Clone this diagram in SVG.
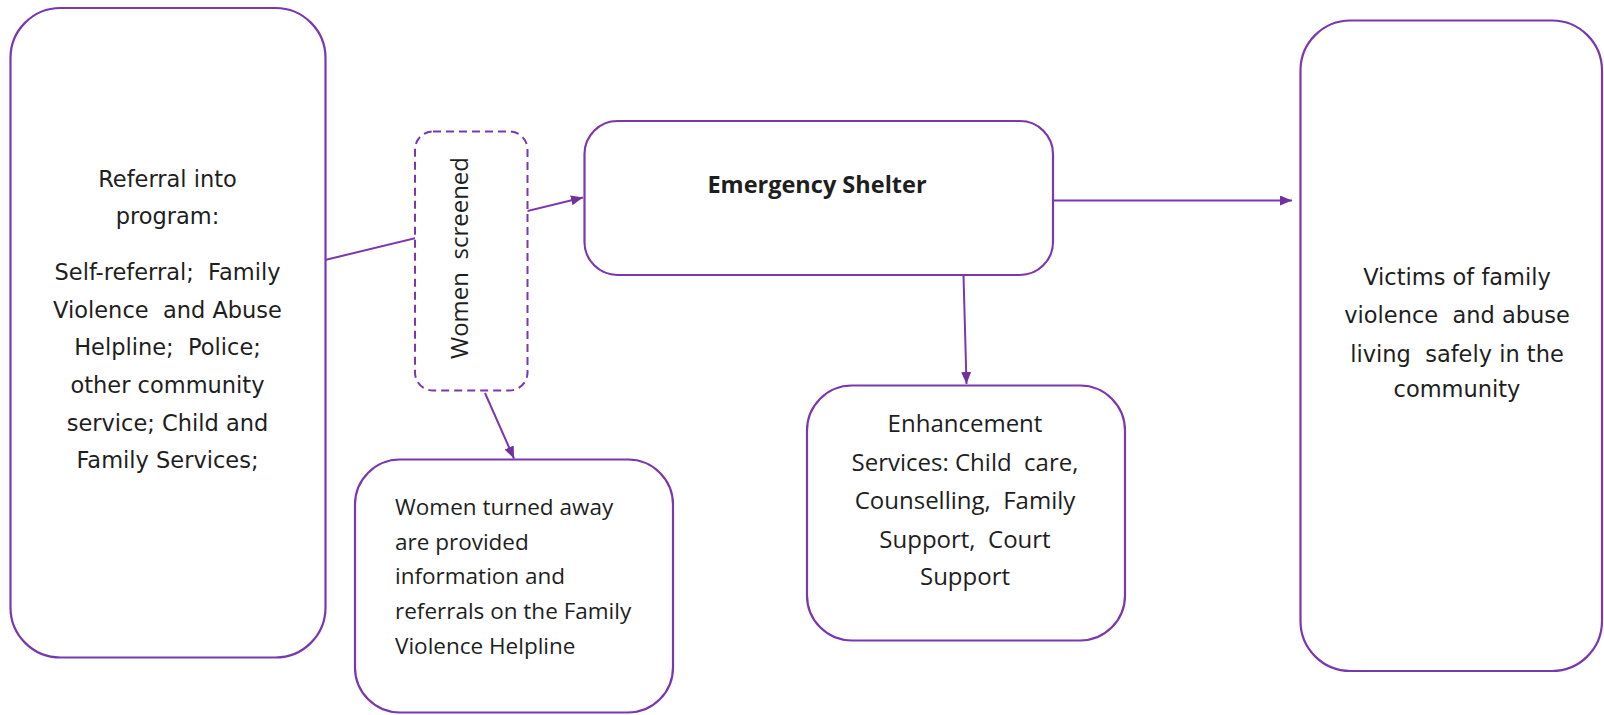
<svg xmlns="http://www.w3.org/2000/svg" width="1604" height="715" viewBox="0 0 1604 715">
<style>
.box{fill:#fff;stroke:#7A38B0;stroke-width:2.2}
.dash{fill:#fff;stroke:#7A38B0;stroke-width:2;stroke-dasharray:8 5}
.edge{fill:none;stroke:#7A38B0;stroke-width:2}
.t1{font-family:"DejaVu Sans",Verdana,sans-serif;font-size:22.5px;fill:#1e1e1e;text-anchor:middle;white-space:pre}
.t2{font-family:"Open Sans","Liberation Sans",sans-serif;font-size:22.5px;fill:#1e1e1e;white-space:pre}
.c{text-anchor:middle}
.b{font-weight:bold;font-size:23.5px}
.e{font-size:24px}
.w{font-size:24px}
</style>
<defs>
<marker id="arr" markerUnits="userSpaceOnUse" markerWidth="13" markerHeight="11" refX="12" refY="5" orient="auto">
<path d="M0,0 L12,5 L0,10 z" fill="#7030A0"/>
</marker>
</defs>
<g id="connectors">
<line class="edge" x1="325" y1="260" x2="583" y2="197.5" marker-end="url(#arr)"/>
<line class="edge" x1="1053" y1="200.5" x2="1292" y2="200.5" marker-end="url(#arr)"/>
<line class="edge" x1="963.5" y1="275" x2="966.5" y2="384" marker-end="url(#arr)"/>
<line class="edge" x1="485" y1="393" x2="514" y2="458.5" marker-end="url(#arr)"/>
</g>
<g id="referral">
<rect class="box" x="10.5" y="8" width="315" height="649.5" rx="50" ry="50"/>
<text class="t1" x="167.5" y="186.5">Referral into</text>
<text class="t1" x="167.5" y="224">program:</text>
<text class="t1" x="167.5" y="280">Self-referral;  Family</text>
<text class="t1" x="167.5" y="317.5">Violence  and Abuse</text>
<text class="t1" x="167.5" y="355">Helpline;  Police;</text>
<text class="t1" x="167.5" y="392.5">other community</text>
<text class="t1" x="167.5" y="430.5">service; Child and</text>
<text class="t1" x="167.5" y="468">Family Services;</text>
</g>
<g id="screened">
<rect class="dash" x="415" y="131.5" width="112.5" height="259" rx="18" ry="18"/>
<text class="t2 c w" transform="translate(468,258) rotate(-90)">Women  screened</text>
</g>
<g id="shelter">
<rect class="box" x="584.5" y="121" width="468.5" height="154" rx="33" ry="33"/>
<text class="t2 c b" x="817" y="193">Emergency Shelter</text>
</g>
<g id="turned-away">
<rect class="box" x="355" y="459.5" width="318" height="253" rx="45" ry="45"/>
<text class="t2" x="395" y="515">Women turned away</text>
<text class="t2" x="395" y="549.5">are provided</text>
<text class="t2" x="395" y="584">information and</text>
<text class="t2" x="395" y="619">referrals on the Family</text>
<text class="t2" x="395" y="653.5">Violence Helpline</text>
</g>
<g id="enhancement">
<rect class="box" x="807" y="385.5" width="318" height="255" rx="45" ry="45"/>
<text class="t2 c e" x="965" y="432">Enhancement</text>
<text class="t2 c e" x="965" y="470.5">Services: Child  care,</text>
<text class="t2 c e" x="965" y="509">Counselling,  Family</text>
<text class="t2 c e" x="965" y="547.5">Support,  Court</text>
<text class="t2 c e" x="965" y="585">Support</text>
</g>
<g id="victims">
<rect class="box" x="1300.5" y="20.5" width="301.5" height="650.5" rx="50" ry="50"/>
<text class="t1" x="1457" y="285">Victims of family</text>
<text class="t1" x="1457" y="323">violence  and abuse</text>
<text class="t1" x="1457" y="361.5">living  safely in the</text>
<text class="t1" x="1457" y="397">community</text>
</g>
</svg>
